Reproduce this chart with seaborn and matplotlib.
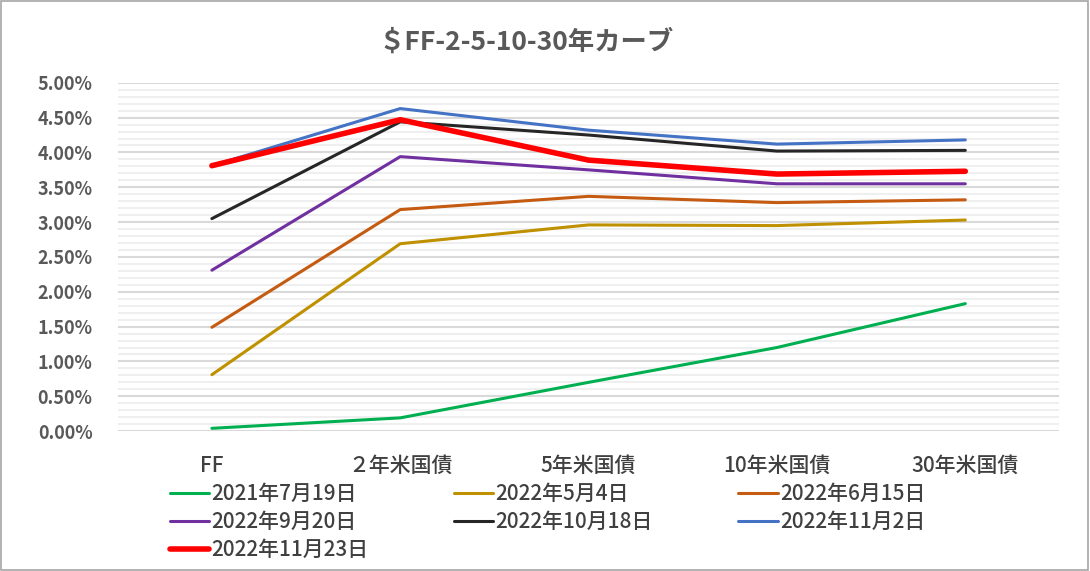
import matplotlib
matplotlib.use("Agg")
import matplotlib.pyplot as plt
import matplotlib.patches as mpatches
from matplotlib.ticker import MultipleLocator, FuncFormatter
import seaborn as sns
import pandas as pd

# data (percent)
tenors = ["FF", "２年米国債", "5年米国債", "10年米国債", "30年米国債"]
dates = ["2021年7月19日", "2022年5月4日", "2022年6月15日", "2022年9月20日",
         "2022年10月18日", "2022年11月2日", "2022年11月23日"]
y_20210719 = [0.04, 0.19, 0.70, 1.20, 1.83]
y_20220504 = [0.81, 2.69, 2.96, 2.95, 3.03]
y_20220615 = [1.49, 3.18, 3.37, 3.28, 3.32]
y_20220920 = [2.31, 3.94, 3.75, 3.55, 3.55]
y_20221018 = [3.05, 4.44, 4.25, 4.02, 4.03]
y_20221102 = [3.81, 4.63, 4.32, 4.12, 4.18]
y_20221123 = [3.81, 4.47, 3.89, 3.69, 3.73]
series = [y_20210719, y_20220504, y_20220615, y_20220920,
          y_20221018, y_20221102, y_20221123]

colors = ["#00B050", "#BF9000", "#C55A11", "#7030A0", "#262626", "#4472C4", "#FF0000"]
widths = [2.2, 2.2, 2.2, 2.2, 2.2, 2.2, 4.0]

sns.set_style("white")
plt.rcParams["font.family"] = ["Noto Sans CJK JP", "DejaVu Sans"]

fig = plt.figure(figsize=(10.9, 5.71), dpi=100)
ax = fig.add_axes([0.108, 0.245, 0.864, 0.61])

for date, vals, c, lw in zip(dates, series, colors, widths):
    df = pd.DataFrame({"tenor": tenors, "rate": vals})
    sns.lineplot(data=df, x="tenor", y="rate", color=c, lw=lw, label=date,
                 ax=ax, sort=False)

ax.set_xlim(-0.5, len(tenors) - 0.5)
ax.set_ylim(0, 5)
ax.yaxis.set_major_locator(MultipleLocator(0.5))
ax.yaxis.set_minor_locator(MultipleLocator(0.1))
ax.yaxis.set_major_formatter(FuncFormatter(lambda v, p: f"{v:.2f}%"))
ax.grid(axis="y", which="major", color="#D9D9D9", lw=1.5, zorder=0)
ax.grid(axis="y", which="minor", color="#EFEFEF", lw=1.5, zorder=0)
ax.set_axisbelow(True)
ax.tick_params(axis="both", which="both", length=0)
ax.tick_params(axis="y", pad=18)
ax.tick_params(axis="x", pad=17)
for t in ax.get_yticklabels():
    t.set_fontsize(13)
    t.set_fontweight("bold")
    t.set_color("#595959")
for t in ax.get_xticklabels():
    t.set_fontsize(15)
    t.set_fontweight("medium")
    t.set_color("#404040")
ax.set_xlabel("")
ax.set_ylabel("")
sns.despine(ax=ax, left=True, bottom=True)

fig.text(0.483, 0.926, "＄FF-2-5-10-30年カーブ", fontsize=19, fontweight="bold",
         color="#595959", ha="center", va="center")

handles, labels = ax.get_legend_handles_labels()
ax.get_legend().remove()
order = [0, 3, 6, 1, 4, 2, 5]
leg = fig.legend([handles[i] for i in order], [labels[i] for i in order],
                 ncol=3, loc="upper left", bbox_to_anchor=(0.148, 0.168),
                 frameon=False, fontsize=15, handlelength=1.9, handletextpad=0.1,
                 columnspacing=4.1, labelspacing=0.28, borderaxespad=0)
for t in leg.get_texts():
    t.set_color("#404040")
    t.set_fontweight("medium")

fig.patches.append(mpatches.Rectangle((0.001, 0.002), 0.997, 0.996, transform=fig.transFigure,
                                      fill=False, edgecolor="#A6A6A6", lw=1.2))

fig.savefig("out.png", dpi=100)
